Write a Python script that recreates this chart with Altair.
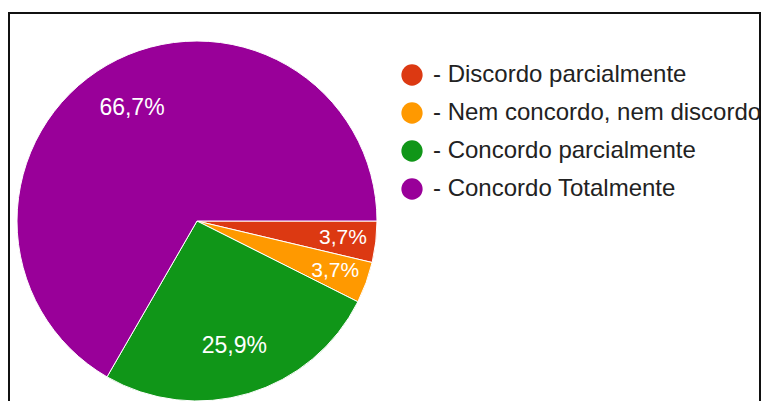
import math
import altair as alt
import pandas as pd

# ---- data ----
categories = [
    "- Discordo parcialmente",
    "- Nem concordo, nem discordo",
    "- Concordo parcialmente",
    "- Concordo Totalmente",
]
counts = [1, 1, 7, 18]
pct_labels = ["3,7%", "3,7%", "25,9%", "66,7%"]
colors = ["#dc3912", "#ff9900", "#109618", "#990099"]
title_text = "Gráfico 10 - Design e apresentação visual"

df = pd.DataFrame({"cat": categories, "n": counts, "lbl": pct_labels, "idx": list(range(len(categories)))})
total = sum(counts)

CX, CY, R = 189, 213, 180
FONT = "Liberation Sans"

theta_scale = alt.Scale(domain=[0, total], range=[math.pi / 2, math.pi / 2 + 2 * math.pi])

base = alt.Chart(df)

arcs = base.mark_arc(outerRadius=R, stroke="white", strokeWidth=1).encode(
    theta=alt.Theta("n:Q", stack=True, scale=theta_scale),
    order=alt.Order("idx:Q", sort="ascending"),
    color=alt.Color(
        "cat:N",
        scale=alt.Scale(domain=categories, range=colors),
        legend=alt.Legend(
            title=None,
            orient="none",
            legendX=392,
            legendY=55,
            symbolType="circle",
            symbolSize=452,
            symbolStrokeWidth=0,
            symbolOpacity=1,
            labelFontSize=24,
            labelFont=FONT,
            labelColor="#222222",
            rowPadding=14,
            labelOffset=9,
            labelLimit=0,
            padding=0,
        ),
    ),
    x=alt.value(CX),
    y=alt.value(CY),
)

lab = base.transform_window(
    cum="sum(n)", sort=[alt.SortField("idx", order="ascending")], frame=[None, 0]
).transform_calculate(mid="datum.cum - datum.n / 2")

big = lab.transform_filter("datum.n > 2").mark_text(
    radius=130, fontSize=23, font=FONT, color="white", align="center", baseline="middle"
).encode(
    theta=alt.Theta("mid:Q", stack=False, scale=theta_scale),
    text="lbl:N",
    x=alt.value(CX),
    y=alt.value(CY),
)

small = lab.transform_filter("datum.n <= 2").mark_text(
    radius=147, fontSize=21, font=FONT, color="white", align="center", baseline="middle"
).encode(
    theta=alt.Theta("mid:Q", stack=False, scale=theta_scale),
    text="lbl:N",
    x=alt.value(CX),
    y=alt.value(CY),
)

frame = alt.Chart(pd.DataFrame({"a": [0]})).mark_rect(
    fillOpacity=0, stroke="#111111", strokeWidth=2
).encode(
    x=alt.value(1), x2=alt.value(752), y=alt.value(5), y2=alt.value(440)
)

chart = alt.layer(frame, arcs, big, small).properties(
    width=753,
    height=393,
    padding=0,
    autosize=alt.AutoSizeParams(type="none"),
    title=alt.TitleParams(title_text, font=FONT, fontSize=22, fontWeight="normal", color="#222222", anchor="middle"),
).configure_view(stroke=None)

chart.save("out.html", embed_options={"renderer": "svg", "actions": False})
